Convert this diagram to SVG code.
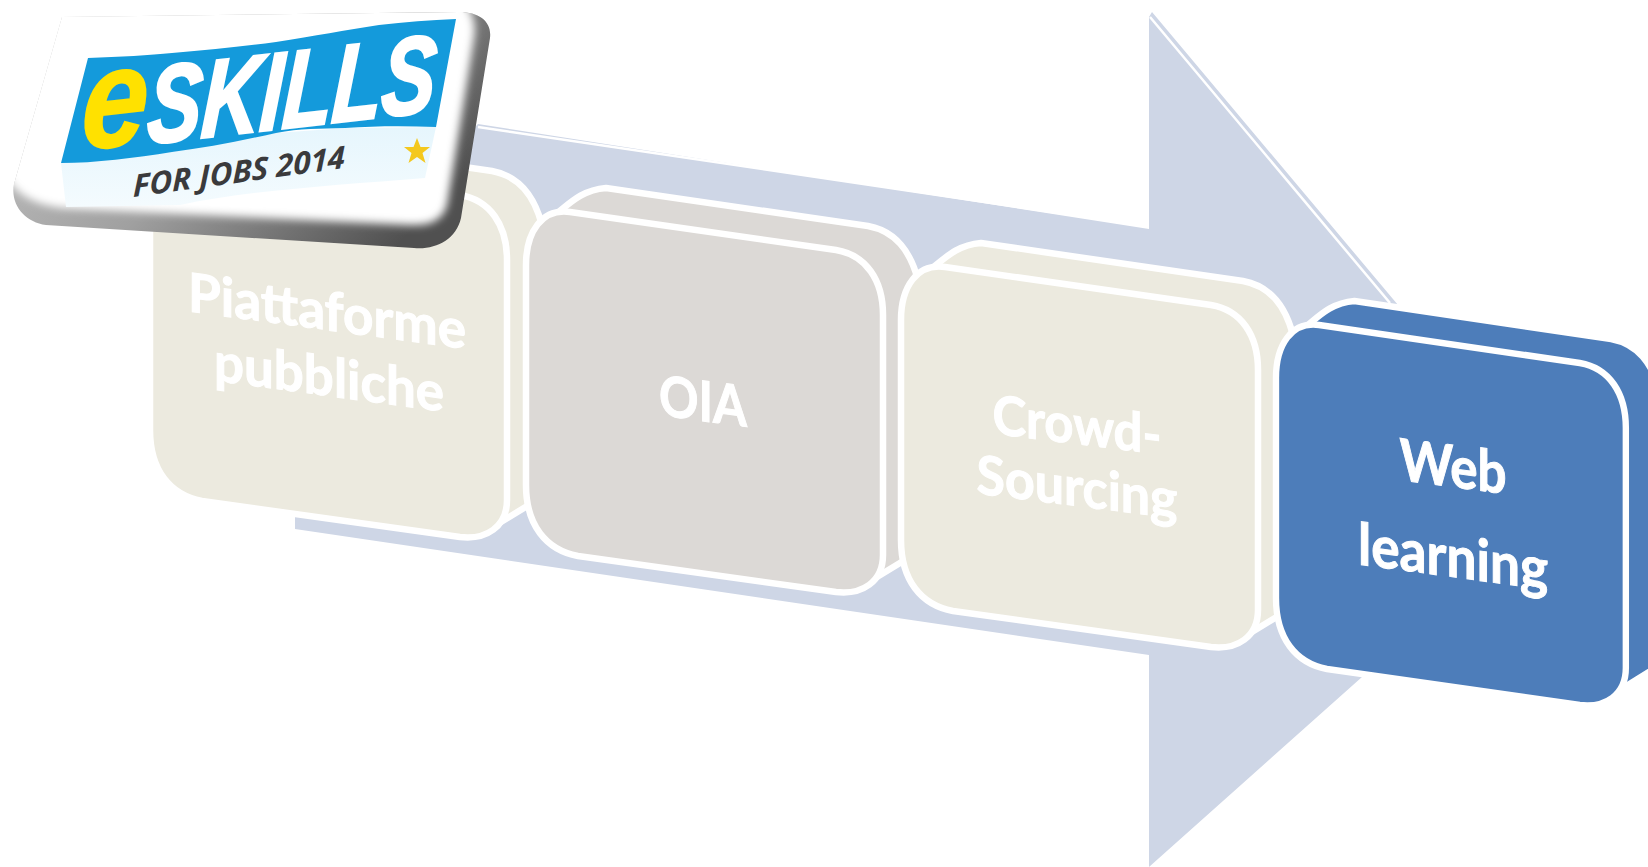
<svg xmlns="http://www.w3.org/2000/svg" width="1648" height="867" viewBox="0 0 1648 867">
<style>
.lbl{font-family:"Lato","Open Sans",sans-serif;font-weight:700;fill:#fff;stroke:#fff;stroke-width:1;text-anchor:middle}
.st{stroke:#fff;stroke-width:6.500;stroke-linejoin:round}
.cream{fill:#ECEADF}.grey{fill:#DCD9D6}.blue{fill:#4D7DBA}
.logo{font-weight:700;font-style:italic}
</style>
<defs>
<path id="back" d="M555 215C570 203 582 190 606 188L868 226C895 231 910 250 918 280L918 552L872 580L600 500Z"/>
<path id="front" d="M570 212L836 250C866 255 883 280 883 315L883 555C883 582 862 595 836 592L578 556C546 550 526 525 526 485L526 265C526 232 542 208 570 212Z"/>
<linearGradient id="edge" x1="0" y1="0" x2="1" y2=".5"><stop offset="0" stop-color="#ccc"/><stop offset=".55" stop-color="#a0a0a0"/><stop offset="1" stop-color="#505050"/></linearGradient>
<linearGradient id="tint" x1="0" y1="0" x2="0" y2="1"><stop offset="0" stop-color="#E6F6FD"/><stop offset="1" stop-color="#F4FBFE"/></linearGradient>
<filter id="soft" x="-10%" y="-10%" width="120%" height="120%"><feGaussianBlur stdDeviation="4.500"/></filter>
<clipPath id="plateClip"><path d="M62 17L459 12C480 12 492 22 490 38L461 218C456 240 435 250 414 248L46 225C25 222 10 205 14 184Z"/></clipPath>
</defs>
<g id="connectors">
<path id="arrow" d="M295 517L295 529L1149 655L1149 867L1362 677L1398 305L1152 12L1149 17L1149 229L478 124L300 300Z" fill="#CED6E6"/>
<path d="M1150 17L1390 303M478 127L1147 226" fill="none" stroke="#fff" stroke-width="2.500"/>
</g>
<g id="node1">
<use href="#back" x="-376" y="-55" class="cream st"/><use href="#front" x="-376" y="-55" class="cream st"/>
<text class="lbl" font-size="54" transform="matrix(1 .135 0 1 327 330)" textLength="278" lengthAdjust="spacingAndGlyphs">Piattaforme</text>
<text class="lbl" font-size="54" transform="matrix(1 .135 0 1 329 396)" textLength="230" lengthAdjust="spacingAndGlyphs">pubbliche</text>
</g>
<g id="node2">
<use href="#back" class="grey st"/><use href="#front" class="grey st"/>
<text class="lbl" font-size="56" transform="matrix(1 .135 0 1 703 421)" textLength="88" lengthAdjust="spacingAndGlyphs">OIA</text>
</g>
<g id="node3">
<use href="#back" x="375" y="55" class="cream st"/><use href="#front" x="375" y="55" class="cream st"/>
<text class="lbl" font-size="54" transform="matrix(1 .125 0 1 1077 444)" textLength="169" lengthAdjust="spacingAndGlyphs">Crowd-</text>
<text class="lbl" font-size="54" transform="matrix(1 .125 0 1 1077 506)" textLength="201" lengthAdjust="spacingAndGlyphs">Sourcing</text>
</g>
<g id="node4">
<use href="#back" transform="matrix(.98 0 0 1 760.500 113)" class="blue st"/><use href="#front" transform="matrix(.98 0 0 1 760.500 113)" class="blue st"/>
<text class="lbl" font-size="58" transform="matrix(1 .13 0 1 1453 487)" textLength="107" lengthAdjust="spacingAndGlyphs">Web</text>
<text class="lbl" font-size="58" transform="matrix(1 .135 0 1 1453 577)" textLength="190" lengthAdjust="spacingAndGlyphs">learning</text>
</g>
<g id="logo">
<g clip-path="url(#plateClip)">
<rect x="0" y="0" width="510" height="260" fill="url(#edge)"/>
<path d="M0 0L462 0C474 12 476 26 474 38L447 205C443 220 430 226 410 225L62 208C34 204 14 196 0 165Z" fill="#fff" filter="url(#soft)"/>
</g>
<path d="M61 163L172 152L276 133L345 128L436 127L425 178C340 185 250 190 180 205L66 207Z" fill="url(#tint)"/>
<path d="M88 58C120 57 150 55 172 53C210 50 245 46 276 42C315 36 345 30 379 25C405 22 430 20 456 19L436 127C405 126 375 126 345 128C320 129 300 128 276 133C240 141 205 148 172 152C135 158 95 163 61 163Z" fill="#149ADB"/>
<text transform="matrix(1 -.115 -.06 1 146 144)" font-family="Liberation Sans,sans-serif" font-size="110" fill="#fff" stroke="#fff" stroke-width="3" class="logo" textLength="288" lengthAdjust="spacingAndGlyphs">SKILLS</text>
<text transform="matrix(1 -.115 -.06 1 80 150)" font-family="Liberation Sans,sans-serif" font-size="140" fill="#FFE100" stroke="#FFE100" stroke-width="2" class="logo" textLength="66" lengthAdjust="spacingAndGlyphs">e</text>
<text transform="matrix(1 -.137 0 1 133 197)" font-family="Open Sans,sans-serif" font-size="31" fill="#3a3a3c" class="logo" textLength="212" lengthAdjust="spacingAndGlyphs">FOR JOBS 2014</text>
<polygon points="417,138 420.500,147 430,147 422.500,153 425.500,163 417,157 408.500,163 411.500,153 404,147 413.500,147" fill="#F4C81E"/>
</g>
</svg>
